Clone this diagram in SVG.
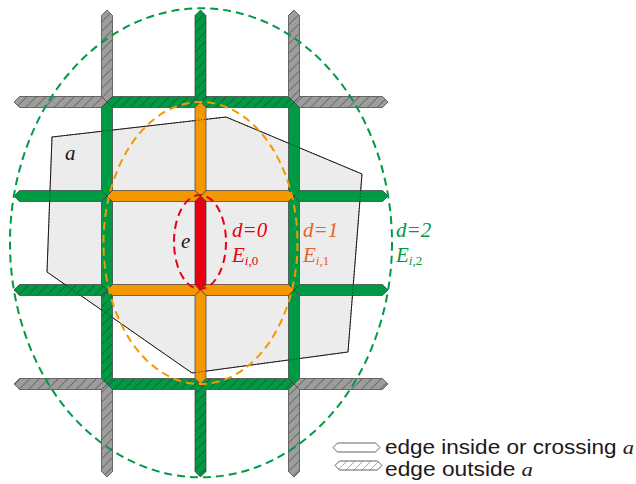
<svg xmlns="http://www.w3.org/2000/svg" width="636" height="484" viewBox="0 0 636 484">
<style>
.seg{stroke:#3e3a39;stroke-width:0.7;stroke-linejoin:miter}
.g{fill:#009944}.o{fill:#f39800}.r{fill:#e60012}.gh{fill:url(#hg)}.xh{fill:url(#hx)}
.lab{font-family:"Liberation Serif","Times New Roman",serif;font-style:italic;font-size:21px}
.sub{font-size:13px}
.up{font-style:normal}
.leg{font-family:"Liberation Sans",Arial,sans-serif;font-size:19.5px;fill:#231815}
.ell{fill:none;stroke-width:2;stroke-dasharray:8 5}
</style>
<defs>
<pattern id="hg" patternUnits="userSpaceOnUse" width="9.5" height="9.5"><rect width="9.5" height="9.5" fill="#009944"/><path d="M0,9.5 L9.5,0 M-1,1 L1,-1 M8.5,10.5 L10.5,8.5" stroke="#1d3b28" stroke-width="0.7"/></pattern>
<pattern id="hx" patternUnits="userSpaceOnUse" width="9.5" height="9.5"><rect width="9.5" height="9.5" fill="#9d9d9d"/><path d="M0,9.5 L9.5,0 M-1,1 L1,-1 M8.5,10.5 L10.5,8.5" stroke="#3a3a3a" stroke-width="0.7"/></pattern>
<pattern id="hl" patternUnits="userSpaceOnUse" width="8" height="8"><rect width="8" height="8" fill="#ffffff"/><path d="M0,8 L8,0 M-1,1 L1,-1 M7,9 L9,7" stroke="#8a8a8a" stroke-width="0.7"/></pattern>
</defs>
<rect width="636" height="484" fill="#ffffff"/>
<g id="region-a">
<polygon points="52,137 226,117 362,174 348,352 192,373 47,272" fill="#ececec" stroke="#231815" stroke-width="1"/>
</g>
<g id="edges">
<polygon class="seg xh" points="14,102 19.5,96.5 101.5,96.5 107,102 101.5,107.5 19.5,107.5"/>
<polygon class="seg gh" points="107,102 112.5,96.5 195,96.5 200.5,102 195,107.5 112.5,107.5"/>
<polygon class="seg gh" points="200.5,102 206,96.5 288.5,96.5 294,102 288.5,107.5 206,107.5"/>
<polygon class="seg xh" points="294,102 299.5,96.5 382.5,96.5 388,102 382.5,107.5 299.5,107.5"/>
<polygon class="seg g" points="14,196 19.5,190.5 101.5,190.5 107,196 101.5,201.5 19.5,201.5"/>
<polygon class="seg o" points="107,196 112.5,190.5 195,190.5 200.5,196 195,201.5 112.5,201.5"/>
<polygon class="seg o" points="200.5,196 206,190.5 288.5,190.5 294,196 288.5,201.5 206,201.5"/>
<polygon class="seg g" points="294,196 299.5,190.5 382.5,190.5 388,196 382.5,201.5 299.5,201.5"/>
<polygon class="seg gh" points="14,290 19.5,284.5 101.5,284.5 107,290 101.5,295.5 19.5,295.5"/>
<polygon class="seg o" points="107,290 112.5,284.5 195,284.5 200.5,290 195,295.5 112.5,295.5"/>
<polygon class="seg o" points="200.5,290 206,284.5 288.5,284.5 294,290 288.5,295.5 206,295.5"/>
<polygon class="seg g" points="294,290 299.5,284.5 382.5,284.5 388,290 382.5,295.5 299.5,295.5"/>
<polygon class="seg xh" points="14,384 19.5,378.5 101.5,378.5 107,384 101.5,389.5 19.5,389.5"/>
<polygon class="seg gh" points="107,384 112.5,378.5 195,378.5 200.5,384 195,389.5 112.5,389.5"/>
<polygon class="seg gh" points="200.5,384 206,378.5 288.5,378.5 294,384 288.5,389.5 206,389.5"/>
<polygon class="seg xh" points="294,384 299.5,378.5 382.5,378.5 388,384 382.5,389.5 299.5,389.5"/>
<polygon class="seg xh" points="107,10 112.5,15.5 112.5,96.5 107,102 101.5,96.5 101.5,15.5"/>
<polygon class="seg g" points="107,102 112.5,107.5 112.5,190.5 107,196 101.5,190.5 101.5,107.5"/>
<polygon class="seg g" points="107,196 112.5,201.5 112.5,284.5 107,290 101.5,284.5 101.5,201.5"/>
<polygon class="seg gh" points="107,290 112.5,295.5 112.5,378.5 107,384 101.5,378.5 101.5,295.5"/>
<polygon class="seg xh" points="107,384 112.5,389.5 112.5,471.5 107,477 101.5,471.5 101.5,389.5"/>
<polygon class="seg gh" points="200.5,10 206,15.5 206,96.5 200.5,102 195,96.5 195,15.5"/>
<polygon class="seg o" points="200.5,102 206,107.5 206,190.5 200.5,196 195,190.5 195,107.5"/>
<polygon class="seg r" points="200.5,196 206,201.5 206,284.5 200.5,290 195,284.5 195,201.5"/>
<polygon class="seg o" points="200.5,290 206,295.5 206,378.5 200.5,384 195,378.5 195,295.5"/>
<polygon class="seg gh" points="200.5,384 206,389.5 206,471.5 200.5,477 195,471.5 195,389.5"/>
<polygon class="seg xh" points="294,10 299.5,15.5 299.5,96.5 294,102 288.5,96.5 288.5,15.5"/>
<polygon class="seg g" points="294,102 299.5,107.5 299.5,190.5 294,196 288.5,190.5 288.5,107.5"/>
<polygon class="seg g" points="294,196 299.5,201.5 299.5,284.5 294,290 288.5,284.5 288.5,201.5"/>
<polygon class="seg g" points="294,290 299.5,295.5 299.5,378.5 294,384 288.5,378.5 288.5,295.5"/>
<polygon class="seg xh" points="294,384 299.5,389.5 299.5,471.5 294,477 288.5,471.5 288.5,389.5"/>
</g>
<g id="region-a-outline">
<polygon points="52,137 226,117 362,174 348,352 192,373 47,272" fill="none" stroke="#231815" stroke-width="0.9" stroke-dasharray="1 2"/>
</g>
<g id="neighbourhoods">
<ellipse class="ell" cx="201" cy="242.8" rx="191" ry="234.5" stroke="#009944"/>
<ellipse class="ell" cx="200.5" cy="243" rx="97" ry="141" stroke="#f39800"/>
<ellipse class="ell" cx="200" cy="242" rx="26" ry="47" stroke="#e60012"/>
</g>
<g id="labels">
<text class="lab" x="65" y="160" fill="#231815">a</text>
<text class="lab" x="181" y="248" fill="#231815">e</text>
<text class="lab" x="232" y="237" fill="#e60012">d=0</text>
<text class="lab" x="232" y="262" fill="#e60012">E<tspan class="sub" dy="3">i<tspan class="up">,0</tspan></tspan></text>
<text class="lab" x="303" y="237" fill="#eb6120">d=1</text>
<text class="lab" x="303" y="262" fill="#eb6120">E<tspan class="sub" dy="3">i<tspan class="up">,1</tspan></tspan></text>
<text class="lab" x="396" y="237" fill="#009944">d=2</text>
<text class="lab" x="396" y="262" fill="#009944">E<tspan class="sub" dy="3">i<tspan class="up">,2</tspan></tspan></text>
</g>
<g id="legend">
<polygon points="333,447.5 337.5,443 375.5,443 380,447.5 375.5,452 337.5,452" fill="#ffffff" stroke="#3e3a39" stroke-width="0.8"/>
<polygon points="335,465.5 339.5,461 377.5,461 382,465.5 377.5,470 339.5,470" fill="url(#hl)" stroke="#3e3a39" stroke-width="0.8"/>
<text class="leg" x="385" y="454" textLength="249" lengthAdjust="spacingAndGlyphs">edge inside or crossing <tspan font-family="'Liberation Serif','Times New Roman',serif" font-style="italic">a</tspan></text>
<text class="leg" x="385" y="476" textLength="148" lengthAdjust="spacingAndGlyphs">edge outside <tspan font-family="'Liberation Serif','Times New Roman',serif" font-style="italic">a</tspan></text>
</g>
</svg>
